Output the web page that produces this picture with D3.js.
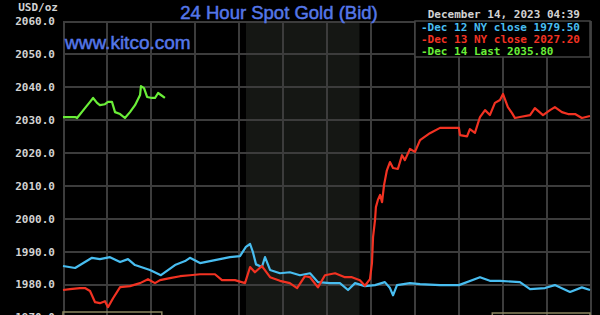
<!DOCTYPE html>
<html><head><meta charset="utf-8">
<script src="https://cdn.jsdelivr.net/npm/d3@7"></script>
<style>html,body{margin:0;padding:0;background:#000;overflow:hidden}</style>
</head><body><svg id="c" width="600" height="315"></svg>
<script>
// Data: hours since midnight (ET) and price USD/oz
const dec12Hours = [0,0.55,1.32,1.68,2.14,2.6,2.96,3.28,3.96,4.46,5.1,5.56,5.78,6.24,6.92,7.6,8.06,8.33,8.52,8.65,8.79,9.06,9.2,9.43,9.88,10.33,10.79,11.25,11.61,12.16,12.61,12.98,13.3,13.75,14.21,14.66,14.89,15.03,15.21,15.8,16.26,17.17,18.03,18.99,19.44,19.9,20.81,21.27,21.95,22.4,23.09,23.63,24];
const dec12Values = [1985.5,1984.9,1988,1987.6,1988.2,1986.7,1987.6,1985.8,1984.3,1982.7,1985.8,1987,1988,1986.4,1987.3,1988.2,1988.5,1991.3,1992.2,1989.7,1986,1985.2,1988.2,1984.3,1983.3,1983.6,1982.7,1983.3,1980.6,1980.3,1980.3,1978.2,1980.3,1979.4,1979.7,1980.6,1978.8,1976.6,1979.7,1980.3,1980,1979.7,1979.7,1982.1,1981,1981,1980.6,1978.5,1978.8,1979.7,1977.6,1979,1978.2];
const dec13Hours = [0,0.32,0.77,1.0,1.23,1.46,1.68,1.91,2.05,2.28,2.6,3.05,3.51,3.87,4.19,4.42,4.87,5.33,5.78,6.24,6.92,7.24,7.83,8.29,8.52,8.74,9.06,9.43,9.88,10.33,10.66,11.02,11.25,11.61,11.93,12.39,12.84,13.16,13.52,13.75,13.98,14.07,14.12,14.21,14.25,14.34,14.44,14.53,14.62,14.75,14.89,15.03,15.25,15.44,15.57,15.8,16.03,16.26,16.71,17.17,18.03,18.08,18.4,18.53,18.76,18.99,19.22,19.44,19.67,19.9,20.04,20.26,20.45,20.58,20.81,21.27,21.49,21.86,22.18,22.4,22.72,23.0,23.32,23.63,24];
const dec13Values = [1978.2,1978.5,1978.8,1978.8,1977.9,1974.5,1974.2,1974.8,1973,1975.7,1979.1,1979.4,1980.3,1981.5,1980.3,1981.2,1981.8,1982.4,1982.7,1983,1983,1981.2,1981.2,1980.3,1985.2,1983.6,1985.5,1982.1,1981,1980.3,1978.8,1982.4,1982.1,1979,1982.7,1983.3,1982.1,1982.1,1981.2,1979.5,1981.5,1986.4,1994.3,1999.5,2003.4,2005.6,2007.1,2004.9,2010.1,2014.6,2017.1,2015.3,2015,2019.2,2017.7,2021.1,2020.2,2023.8,2025.9,2027.5,2027.5,2025.3,2024.9,2027.1,2026,2030.8,2032.9,2031.4,2035.1,2036,2037.8,2033.8,2032,2030.5,2030.8,2031.4,2033.5,2031.4,2032.9,2033.8,2032.3,2031.7,2031.7,2030.5,2031.1];
const dec14Hours = [0,0.55,0.64,1.0,1.23,1.37,1.55,1.68,1.91,2.05,2.23,2.37,2.6,2.82,3.05,3.28,3.51,3.55,3.69,3.83,4.05,4.19,4.33,4.46,4.64];
const dec14Values = [2030.8,2030.8,2030.5,2033.5,2035.4,2036.6,2035.1,2034.4,2034.7,2035.4,2035.4,2032.3,2031.7,2030.5,2032.3,2034.4,2037.5,2040.2,2039.6,2036.9,2036.6,2036.6,2038.1,2037.5,2036.6];
const yTicks = [1970,1980,1990,2000,2010,2020,2030,2040,2050,2060];
const xTicks = [0,2,4,6,8,10,12,14,16,18,20,22,24];
const shadedHours = [8.3333, 13.5];
const legendLabels = ["Dec 12 NY close 1979.50","Dec 13 NY close 2027.20","Dec 14 Last 2035.80"];
const seriesColors = ["#48bdf0","#f23222","#6aee38"];
const titleText = "24 Hour Spot Gold (Bid)";
const dateText = "December 14, 2023 04:39";

const svg = d3.select("#c");
const L=63, R=590, T=21, B=317;
const x = d3.scaleLinear().domain([0,24]).range([L,R]);
const y = d3.scaleLinear().domain([1970,2060]).range([B,T]);
const gridColor = "#3c3c3c";
const mono = "'DejaVu Sans Mono', 'Liberation Mono', monospace";

svg.append("rect").attr("width",600).attr("height",315).attr("fill","#000");
// shaded COMEX session
svg.append("rect").attr("x",x(shadedHours[0])).attr("y",T)
  .attr("width",x(shadedHours[1])-x(shadedHours[0])).attr("height",B-T).attr("fill","#151714");

// grid
const gy = svg.append("g").attr("transform",`translate(${L},0)`)
  .call(d3.axisLeft(y).tickValues(yTicks).tickSize(-(R-L)).tickFormat(""));
gy.select(".domain").remove();
gy.selectAll("line").attr("stroke",gridColor).attr("stroke-width",2).attr("shape-rendering","crispEdges");
const gx = svg.append("g").attr("transform",`translate(0,${T})`)
  .call(d3.axisBottom(x).tickValues(xTicks).tickSize(B-T).tickFormat(""));
gx.select(".domain").remove();
gx.selectAll("line").attr("stroke",gridColor).attr("stroke-width",2).attr("shape-rendering","crispEdges");

// y labels
const yl = svg.append("g").attr("transform",`translate(${L-5},0)`)
  .call(d3.axisLeft(y).tickValues(yTicks).tickSize(0).tickFormat(d3.format(".1f")));
yl.select(".domain").remove();
yl.selectAll("text").attr("fill","#d2d2d2").attr("font-family",mono).attr("font-weight","bold")
  .attr("font-size",11).attr("dy","0.35em");

svg.append("text").attr("x",58).attr("y",11).attr("text-anchor","end").attr("fill","#d2d2d2")
  .attr("font-family",mono).attr("font-weight","bold").attr("font-size",11).text("USD/oz");

// bottom boxes (cut off)
svg.append("rect").attr("x",x(0)).attr("y",312).attr("width",x(4.5)-x(0)).attr("height",12)
  .attr("fill","none").attr("stroke","#8a8560").attr("stroke-width",1.5);
svg.append("rect").attr("x",x(19.55)).attr("y",313).attr("width",x(24)-x(19.55)).attr("height",12)
  .attr("fill","none").attr("stroke","#8a8560").attr("stroke-width",1.5);

// lines
const line = d3.line().x(d=>x(d[0])).y(d=>y(d[1]));
const series = [
  d3.zip(dec12Hours, dec12Values),
  d3.zip(dec13Hours, dec13Values),
  d3.zip(dec14Hours, dec14Values)
];
series.forEach((s,i)=>{
  svg.append("path").datum(s).attr("d",line).attr("fill","none")
    .attr("stroke",seriesColors[i]).attr("stroke-width",2.2).attr("stroke-linejoin","round");
});

// title
svg.append("text").attr("x",279).attr("y",19).attr("text-anchor","middle").attr("fill","#5577e8")
  .attr("stroke","#5577e8").attr("stroke-width",0.5)
  .attr("font-family","'Liberation Sans', Arial, sans-serif").attr("font-size",18.5).text(titleText);
svg.append("text").attr("x",65).attr("y",49).attr("fill","#5577e8")
  .attr("stroke","#5577e8").attr("stroke-width",0.5)
  .attr("font-family","'Liberation Sans', Arial, sans-serif").attr("font-size",19).text("www.kitco.com");
svg.append("text").attr("x",580).attr("y",18).attr("text-anchor","end").attr("fill","#d2d2d2")
  .attr("font-family",mono).attr("font-weight","bold").attr("font-size",11).text(dateText);

// legend
const lg = svg.append("g");
lg.append("rect").attr("x",415).attr("y",21).attr("width",R-415).attr("height",36)
  .attr("fill","#000").attr("stroke","#444").attr("stroke-width",1.5);
legendLabels.forEach((t,i)=>{
  lg.append("text").attr("x",421).attr("y",31+i*12).attr("fill",seriesColors[i])
    .attr("font-family",mono).attr("font-weight","bold").attr("font-size",11)
    .attr("xml:space","preserve").text("-"+t);
});
</script></body></html>
